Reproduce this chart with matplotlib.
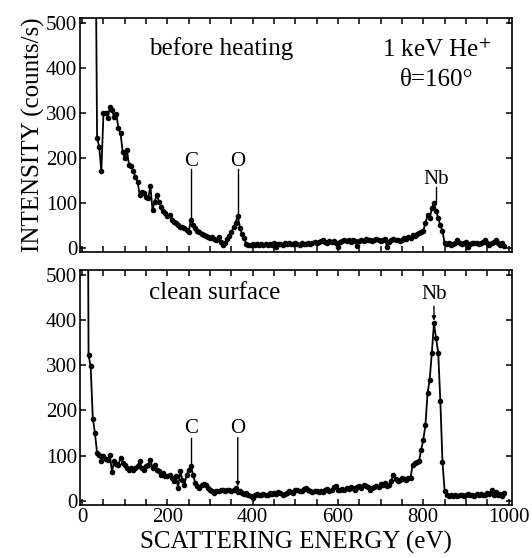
import numpy as np
import matplotlib
matplotlib.use("Agg")
import matplotlib.pyplot as plt
from matplotlib.ticker import MultipleLocator

plt.rcParams['font.family'] = ['Liberation Serif', 'DejaVu Serif']
plt.rcParams['mathtext.fontset'] = 'stix'

# energy channels (eV), 5 eV steps
e_top = np.arange(30, 995, 5)
before = [
    900, 244, 225, 170, 299, 299, 288, 313, 307, 290,
    298, 266, 255, 214, 199, 218, 184, 181, 170, 158,
    147, 118, 125, 122, 114, 110, 138, 84, 103, 118,
    103, 92, 81, 77, 71, 73, 62, 58, 55, 51,
    47, 46, 44, 40, 36, 62, 52, 44, 38, 35,
    32, 29, 27, 25, 22, 25, 20, 18, 25, 14,
    7, 12, 20, 27, 35, 46, 56, 72, 45, 30,
    22, 8, 6, 7, 8, 6, 9, 7, 8, 7,
    9, 6, 8, 7, 10, 2, 8, 9, 7, 10,
    8, 11, 9, 8, 10, 9, 7, 10, 9, 8,
    11, 9, 12, 14, 11, 13, 15, 18, 14, 12,
    15, 13, 16, 12, 3, 14, 16, 18, 15, 17,
    14, 18, 16, 4, 15, 18, 16, 19, 17, 18,
    15, 18, 20, 17, 15, 18, 19, 3, 14, 18,
    20, 17, 18, 16, 18, 22, 20, 25, 22, 28,
    26, 30, 34, 36, 38, 55, 73, 66, 88, 100,
    82, 66, 50, 38, 10, 8, 11, 7, 9, 10,
    18, 12, 9, 11, 14, 3, 8, 11, 10, 12,
    9, 11, 14, 18, 12, 7, 10, 14, 18, 12,
    7, 10, 5,
]

e_bot = np.arange(10, 995, 5)
clean = [
    1500, 322, 297, 182, 150, 106, 102, 88, 99, 93,
    90, 101, 64, 89, 82, 80, 95, 84, 79, 73,
    69, 73, 69, 72, 77, 88, 73, 69, 77, 80,
    91, 73, 79, 69, 66, 58, 62, 54, 56, 58,
    51, 43, 54, 29, 66, 47, 36, 58, 69, 77,
    58, 40, 32, 29, 36, 38, 36, 29, 25, 22,
    18, 21, 23, 25, 25, 23, 25, 25, 22, 25,
    28, 20, 22, 18, 15, 18, 13, 10, 7, 12,
    15, 13, 14, 16, 12, 14, 17, 15, 18, 15,
    20, 17, 13, 16, 18, 22, 20, 18, 24, 25,
    21, 22, 26, 29, 24, 22, 20, 23, 21, 20,
    22, 19, 24, 26, 22, 24, 30, 32, 25, 24,
    27, 25, 29, 27, 30, 28, 25, 30, 32, 28,
    35, 33, 30, 25, 28, 30, 32, 30, 38, 35,
    40, 33, 36, 45, 58, 48, 43, 46, 51, 48,
    47, 50, 51, 80, 83, 85, 88, 113, 135, 168,
    238, 268, 327, 392, 360, 327, 220, 85, 23, 14,
    10, 12, 11, 13, 10, 12, 14, 11, 13, 15,
    12, 14, 11, 15, 13, 16, 12, 14, 17, 15,
    24, 14, 19, 12, 16, 10, 18,
]

# peak markers: (label, energy, label height, line top, line bottom)
marks_top = [("C", 255, 191, 176, 66), ("O", 365, 191, 176, 78), ("Nb", 829, 151, 136, 104)]
marks_bot = [("C", 255, 161, 140, 74), ("O", 365, 161, 140, 32), ("Nb", 825, 455, 430, 398)]

fig = plt.figure(figsize=(5.32, 5.58), dpi=100)
ax1 = fig.add_axes([0.1504, 0.5484, 0.812, 0.4194])
ax2 = fig.add_axes([0.1504, 0.0950, 0.812, 0.4211])

for ax, e, y, marks in [(ax1, e_top, before, marks_top), (ax2, e_bot, clean, marks_bot)]:
    ax.plot(e, y, color='black', lw=1.3, marker='o', ms=3.0)
    ax.set_xlim(-5, 1008)
    ax.xaxis.set_major_locator(MultipleLocator(200))
    ax.xaxis.set_minor_locator(MultipleLocator(50))
    ax.yaxis.set_major_locator(MultipleLocator(100))
    ax.tick_params(which='both', direction='in', top=True, right=True,
                   length=4.5, width=1.1, labelsize=15, pad=2)
    for s in ax.spines.values():
        s.set_linewidth(1.2)
    for lab, xe, ylab, ytop, ybot in marks:
        ax.text(xe, ylab, lab, ha='center', va='center', fontsize=15)
        if ax is ax2 and lab != "C":
            ax.annotate('', xy=(xe, ybot), xytext=(xe, ytop),
                        arrowprops=dict(arrowstyle='-|>', color='black', lw=1.0,
                                        mutation_scale=6, shrinkA=0, shrinkB=0))
        else:
            ax.plot([xe, xe], [ytop, ybot], color='black', lw=1.0)

ax1.set_ylim(-9, 511)
ax2.set_ylim(-9, 510)
ax1.tick_params(labelbottom=False)

ax1.text(156, 444, "before heating", ha='left', va='center', fontsize=18)
ax1.text(832, 440, "1 keV He$^{+}$", ha='center', va='center', fontsize=18)
ax1.text(832, 374, "\u03b8=160\u00b0", ha='center', va='center', fontsize=18)
ax2.text(156, 459, "clean surface", ha='left', va='center', fontsize=18)

ax1.set_ylabel("INTENSITY (counts/s)", fontsize=18, labelpad=1)
ax2.set_xlabel("SCATTERING ENERGY (eV)", fontsize=18, labelpad=3)

fig.savefig("out.png", dpi=100)
